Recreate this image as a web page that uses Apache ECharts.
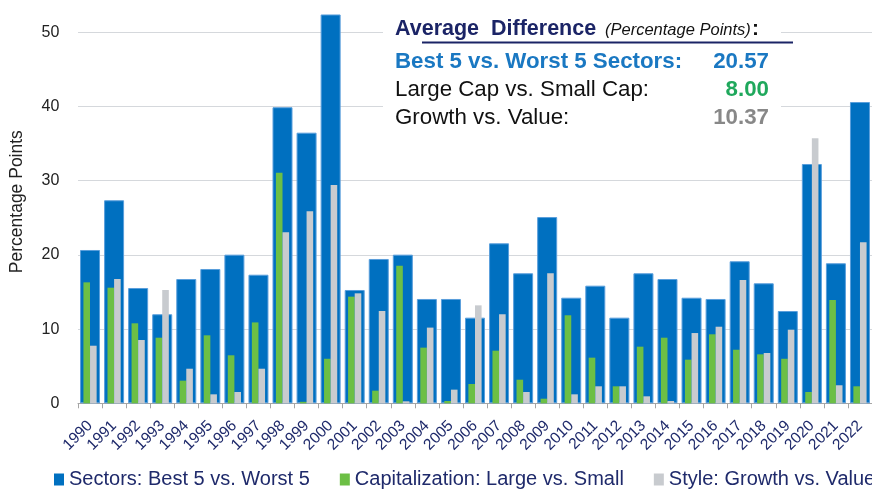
<!DOCTYPE html>
<html><head><meta charset="utf-8">
<script src="https://cdn.jsdelivr.net/npm/echarts@6/dist/echarts.min.js"></script>
<style>html,body{margin:0;padding:0;background:#fff}#c{width:872px;height:489px}</style>
</head><body><div id="c"></div>
<script>
const years = ['1990','1991','1992','1993','1994','1995','1996','1997','1998','1999','2000','2001','2002','2003','2004','2005','2006','2007','2008','2009','2010','2011','2012','2013','2014','2015','2016','2017','2018','2019','2020','2021','2022'];
const seriesNames = ['Sectors: Best 5 vs. Worst 5', 'Capitalization: Large vs. Small', 'Style: Growth vs. Value'];
const sectors = [20.66, 27.36, 15.54, 12.0, 16.75, 18.1, 20.03, 17.33, 39.9, 36.47, 52.4, 15.27, 19.45, 20.03, 14.06, 14.06, 11.54, 21.56, 17.52, 25.1, 14.23, 15.85, 11.54, 17.52, 16.75, 14.23, 14.06, 19.14, 16.17, 12.44, 32.25, 18.87, 40.6];
const capitalization = [16.3, 15.58, 10.78, 8.84, 3.05, 9.16, 6.47, 10.9, 31.08, 0.2, 6.0, 14.37, 1.7, 18.55, 7.5, 0.31, 2.6, 7.09, 3.18, 0.62, 11.86, 6.15, 2.29, 7.63, 8.84, 5.88, 9.3, 7.22, 6.6, 6.0, 1.52, 13.92, 2.29];
const style = [7.76, 16.75, 8.53, 15.27, 4.66, 1.21, 1.52, 4.66, 23.05, 25.87, 29.42, 14.82, 12.44, 0.27, 10.2, 1.84, 13.2, 12.0, 1.52, 17.52, 1.21, 2.29, 2.29, 0.94, 0.31, 9.47, 10.32, 16.62, 6.78, 9.92, 35.71, 2.43, 21.7];
const yTicks = {min: 0, max: 54.35, interval: 10};
const avgTitle = 'Average  Difference';
const avgSubtitle = '(Percentage Points)';
const avgLabels = ['Best 5 vs. Worst 5 Sectors:', 'Large Cap vs. Small Cap:', 'Growth vs. Value:'];
const avgValues = ['20.57', '8.00', '10.37'];
const yTitle = 'Percentage Points';

const FONT = '"Liberation Sans", Arial, Helvetica, sans-serif';
const NAVY = '#1f2a6b';
const chart = echarts.init(document.getElementById('c'), null, {renderer: 'canvas'});

const rowY = [61.8, 89.8, 117.5];
const labelColors = ['#1a78c2', '#111', '#111'];
const labelWeights = ['bold', 'normal', 'normal'];
const valueColors = ['#1a78c2', '#1fa85c', '#888888'];

const graphic = [
  {type: 'rect', z: 1, shape: {x: 383, y: 16, width: 398, height: 118}, style: {fill: '#fff'}},
  {type: 'text', z: 10, x: 395, y: 28.8, style: {text: avgTitle, font: 'bold 21.5px ' + FONT, fill: '#1b2466', align: 'left', verticalAlign: 'middle'}},
  {type: 'text', z: 10, x: 605, y: 30.5, style: {text: avgSubtitle, font: 'italic 16.5px ' + FONT, fill: '#111', align: 'left', verticalAlign: 'middle'}},
  {type: 'text', z: 10, x: 752, y: 28.8, style: {text: ':', font: 'bold 21px ' + FONT, fill: '#111', align: 'left', verticalAlign: 'middle'}},
  {type: 'line', z: 10, shape: {x1: 422, y1: 42.5, x2: 793, y2: 42.5}, style: {stroke: '#1b2466', lineWidth: 2}}
];
avgLabels.forEach((t, i) => {
  graphic.push({type: 'text', z: 10, x: 395, y: rowY[i], style: {text: t, font: labelWeights[i] + ' 22.3px ' + FONT, fill: labelColors[i], align: 'left', verticalAlign: 'middle'}});
  graphic.push({type: 'text', z: 10, x: 769, y: rowY[i], style: {text: avgValues[i], font: 'bold 22.3px ' + FONT, fill: valueColors[i], align: 'right', verticalAlign: 'middle'}});
});

const option = {
  animation: false,
  textStyle: {fontFamily: FONT},
  grid: {left: 76.7, right: -2, top: 0, bottom: 85.7, containLabel: false},
  legend: {
    left: 54, top: 469.5, width: 860, padding: 0, itemWidth: 10, itemHeight: 12, itemGap: 30, icon: 'rect',
    itemStyle: {borderWidth: 0},
    textStyle: {fontSize: 20, color: NAVY, fontFamily: FONT},
    data: seriesNames
  },
  xAxis: [
    {type: 'category', data: years, boundaryGap: true,
     axisLine: {lineStyle: {color: '#a6a6a6'}},
     axisTick: {show: true, length: 5, lineStyle: {color: '#a6a6a6'}},
     axisLabel: {rotate: 45, interval: 0, fontSize: 15.5, color: NAVY, margin: 20, fontFamily: FONT},
     splitLine: {show: false}},
    {type: 'category', data: years, show: false}
  ],
  yAxis: {
    type: 'value', min: yTicks.min, max: yTicks.max, interval: yTicks.interval,
    name: yTitle, nameLocation: 'middle', nameGap: 52, nameRotate: 90,
    nameTextStyle: {fontSize: 17.5, color: '#222', fontFamily: FONT},
    axisLabel: {fontSize: 16, color: '#222', margin: 18.7, showMaxLabel: false, fontFamily: FONT},
    axisLine: {show: false}, axisTick: {show: false},
    splitLine: {showMaxLine: false, lineStyle: {color: '#d5d8dc', width: 1}}
  },
  series: [
    {name: seriesNames[0], type: 'bar', xAxisIndex: 0, data: sectors, barWidth: 20, z: 2,
     itemStyle: {color: '#0070c0', borderColor: '#5a9fdc', borderWidth: 1}},
    {name: seriesNames[1], type: 'bar', xAxisIndex: 1, data: capitalization, barWidth: 6.6, barGap: '0%', z: 3,
     itemStyle: {color: '#6cbf45'}},
    {name: seriesNames[2], type: 'bar', xAxisIndex: 1, data: style, barWidth: 6.6, barGap: '0%', z: 3,
     itemStyle: {color: '#c8cbcf'}}
  ],
  graphic: graphic
};
chart.setOption(option);
</script>
</body></html>
